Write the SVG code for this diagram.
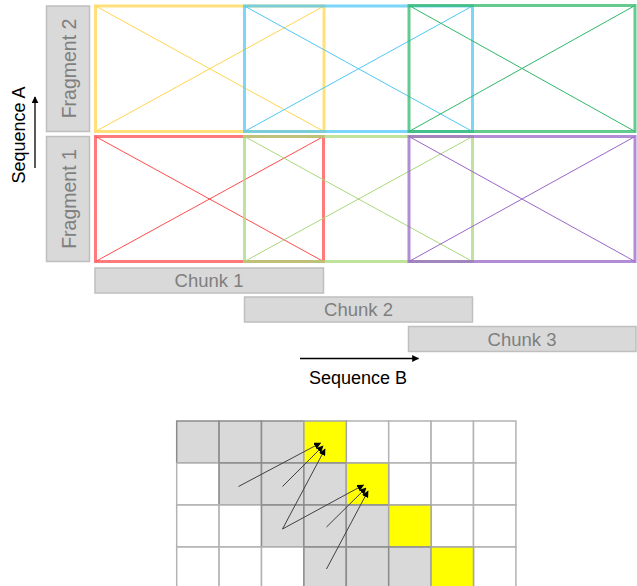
<svg xmlns="http://www.w3.org/2000/svg" width="637" height="586" viewBox="0 0 637 586">
<style>
  .lbl { fill: #d9d9d9; stroke: #bfbfbf; stroke-width: 1.5; }
  .lbltxt { font-family: "Liberation Sans", Arial, sans-serif; fill: #7f7f7f; text-anchor: middle; }
  .axtxt { font-family: "Liberation Sans", Arial, sans-serif; fill: #000; text-anchor: middle; font-size: 18px; }
  .box { fill: none; stroke-width: 3; stroke-opacity: 0.75; }
  .diag { stroke-width: 1; fill: none; }
  .cw { fill: #ffffff; stroke: #b3b3b3; stroke-width: 1.5; }
  .cg { fill: #d9d9d9; stroke: #8c8c8c; stroke-width: 1.5; }
  .cy { fill: #ffff00; stroke: #a6a6a6; stroke-width: 1.5; }
  .arr { stroke: #404040; stroke-width: 1; fill: none; marker-end: url(#ah); }
  .ax { stroke: #000; stroke-width: 1.3; fill: none; marker-end: url(#ah2); }
</style>
<defs>
  <marker id="ah" viewBox="0 0 10 10" refX="9" refY="5" markerWidth="7" markerHeight="7" markerUnits="userSpaceOnUse" orient="auto">
    <path d="M0,0 L10,5 L0,10 z" fill="#000"/>
  </marker>
  <marker id="ah2" viewBox="0 0 10 10" refX="9" refY="5" markerWidth="7" markerHeight="7" markerUnits="userSpaceOnUse" orient="auto">
    <path d="M0,0 L10,5 L0,10 z" fill="#000"/>
  </marker>
</defs>

<!-- Axis labels -->
<g id="seqA">
  <text class="axtxt" transform="translate(24.5,135) rotate(-90)">Sequence A</text>
</g>
<g id="seqB">
  <text class="axtxt" x="358" y="384">Sequence B</text>
</g>

<!-- Fragment labels -->
<g id="frag2">
  <rect class="lbl" x="46.5" y="6" width="43" height="125.5"/>
  <text class="lbltxt" font-size="19.5" transform="translate(75.5,68.5) rotate(-90)">Fragment 2</text>
</g>
<g id="frag1">
  <rect class="lbl" x="46.5" y="136.5" width="43" height="125"/>
  <text class="lbltxt" font-size="19.5" transform="translate(75.5,199) rotate(-90)">Fragment 1</text>
</g>

<!-- Chunk labels -->
<g id="chunk1">
  <rect class="lbl" x="95" y="268" width="228.5" height="25"/>
  <text class="lbltxt" font-size="18.5" x="209" y="287">Chunk 1</text>
</g>
<g id="chunk2">
  <rect class="lbl" x="244.5" y="297" width="228" height="25"/>
  <text class="lbltxt" font-size="18.5" x="358.5" y="316">Chunk 2</text>
</g>
<g id="chunk3">
  <rect class="lbl" x="408.5" y="326.5" width="227.5" height="25"/>
  <text class="lbltxt" font-size="18.5" x="522" y="345.5">Chunk 3</text>
</g>

<!-- Attention blocks -->
<g id="blk-yellow">
  <rect class="box" x="95.5" y="6" width="228.5" height="125.5" stroke="#ffd54f"/>
  <path class="diag" stroke="#ffd54f" d="M95.5,6 L324,131.5 M95.5,131.5 L324,6"/>
</g>
<g id="blk-blue">
  <rect class="box" x="244.5" y="6" width="228" height="125.5" stroke="#4fc8f5"/>
  <path class="diag" stroke="#4fc8f5" d="M244.5,6 L472.5,131.5 M244.5,131.5 L472.5,6"/>
</g>
<g id="blk-green">
  <rect class="box" x="409" y="5.5" width="226" height="126" stroke="#30b86a"/>
  <path class="diag" stroke="#30b86a" d="M409,5.5 L635,131.5 M409,131.5 L635,5.5"/>
</g>
<g id="blk-red">
  <rect class="box" x="95.5" y="136.5" width="228" height="125" stroke="#ff4d4d"/>
  <path class="diag" stroke="#ff4d4d" d="M95.5,136.5 L323.5,261.5 M95.5,261.5 L323.5,136.5"/>
</g>
<g id="blk-lightgreen">
  <rect class="box" x="244.5" y="136.5" width="228" height="125" stroke="#a9d97a"/>
  <path class="diag" stroke="#a9d97a" d="M244.5,136.5 L472.5,261.5 M244.5,261.5 L472.5,136.5"/>
</g>
<g id="blk-purple">
  <rect class="box" x="409" y="136.5" width="226" height="125" stroke="#9a66c8"/>
  <path class="diag" stroke="#9a66c8" d="M409,136.5 L635,261.5 M409,261.5 L635,136.5"/>
</g>

<!-- Grid -->
<g id="grid">
  <rect class="cw" x="346.3" y="421" width="42.4" height="42"/>
  <rect class="cw" x="388.7" y="421" width="42.4" height="42"/>
  <rect class="cw" x="431.1" y="421" width="42.4" height="42"/>
  <rect class="cw" x="473.5" y="421" width="42.4" height="42"/>
  <rect class="cg" x="176.7" y="421" width="42.4" height="42"/>
  <rect class="cg" x="219.1" y="421" width="42.4" height="42"/>
  <rect class="cg" x="261.5" y="421" width="42.4" height="42"/>
  <rect class="cy" x="303.9" y="421" width="42.4" height="42"/>
  <rect class="cw" x="176.7" y="463" width="42.4" height="42"/>
  <rect class="cw" x="388.7" y="463" width="42.4" height="42"/>
  <rect class="cw" x="431.1" y="463" width="42.4" height="42"/>
  <rect class="cw" x="473.5" y="463" width="42.4" height="42"/>
  <rect class="cg" x="219.1" y="463" width="42.4" height="42"/>
  <rect class="cg" x="261.5" y="463" width="42.4" height="42"/>
  <rect class="cg" x="303.9" y="463" width="42.4" height="42"/>
  <rect class="cy" x="346.3" y="463" width="42.4" height="42"/>
  <rect class="cw" x="176.7" y="505" width="42.4" height="42"/>
  <rect class="cw" x="219.1" y="505" width="42.4" height="42"/>
  <rect class="cw" x="431.1" y="505" width="42.4" height="42"/>
  <rect class="cw" x="473.5" y="505" width="42.4" height="42"/>
  <rect class="cg" x="261.5" y="505" width="42.4" height="42"/>
  <rect class="cg" x="303.9" y="505" width="42.4" height="42"/>
  <rect class="cg" x="346.3" y="505" width="42.4" height="42"/>
  <rect class="cy" x="388.7" y="505" width="42.4" height="42"/>
  <rect class="cw" x="176.7" y="547" width="42.4" height="42"/>
  <rect class="cw" x="219.1" y="547" width="42.4" height="42"/>
  <rect class="cw" x="261.5" y="547" width="42.4" height="42"/>
  <rect class="cw" x="473.5" y="547" width="42.4" height="42"/>
  <rect class="cg" x="303.9" y="547" width="42.4" height="42"/>
  <rect class="cg" x="346.3" y="547" width="42.4" height="42"/>
  <rect class="cg" x="388.7" y="547" width="42.4" height="42"/>
  <rect class="cy" x="431.1" y="547" width="42.4" height="42"/>
</g>

<!-- Connectors -->
<g id="connectors">
  <line class="ax" x1="35" y1="168" x2="35" y2="97"/>
  <line class="ax" x1="300" y1="358.5" x2="418.5" y2="358.5"/>
  <line class="arr" x1="238.5" y1="486.5" x2="320.5" y2="443"/>
  <line class="arr" x1="282.5" y1="486.5" x2="323" y2="446"/>
  <line class="arr" x1="282.5" y1="529" x2="325" y2="449"/>
  <line class="arr" x1="282.5" y1="529" x2="363.5" y2="485"/>
  <line class="arr" x1="326.5" y1="527" x2="366" y2="488"/>
  <line class="arr" x1="326.5" y1="569" x2="368" y2="491"/>
</g>
</svg>
